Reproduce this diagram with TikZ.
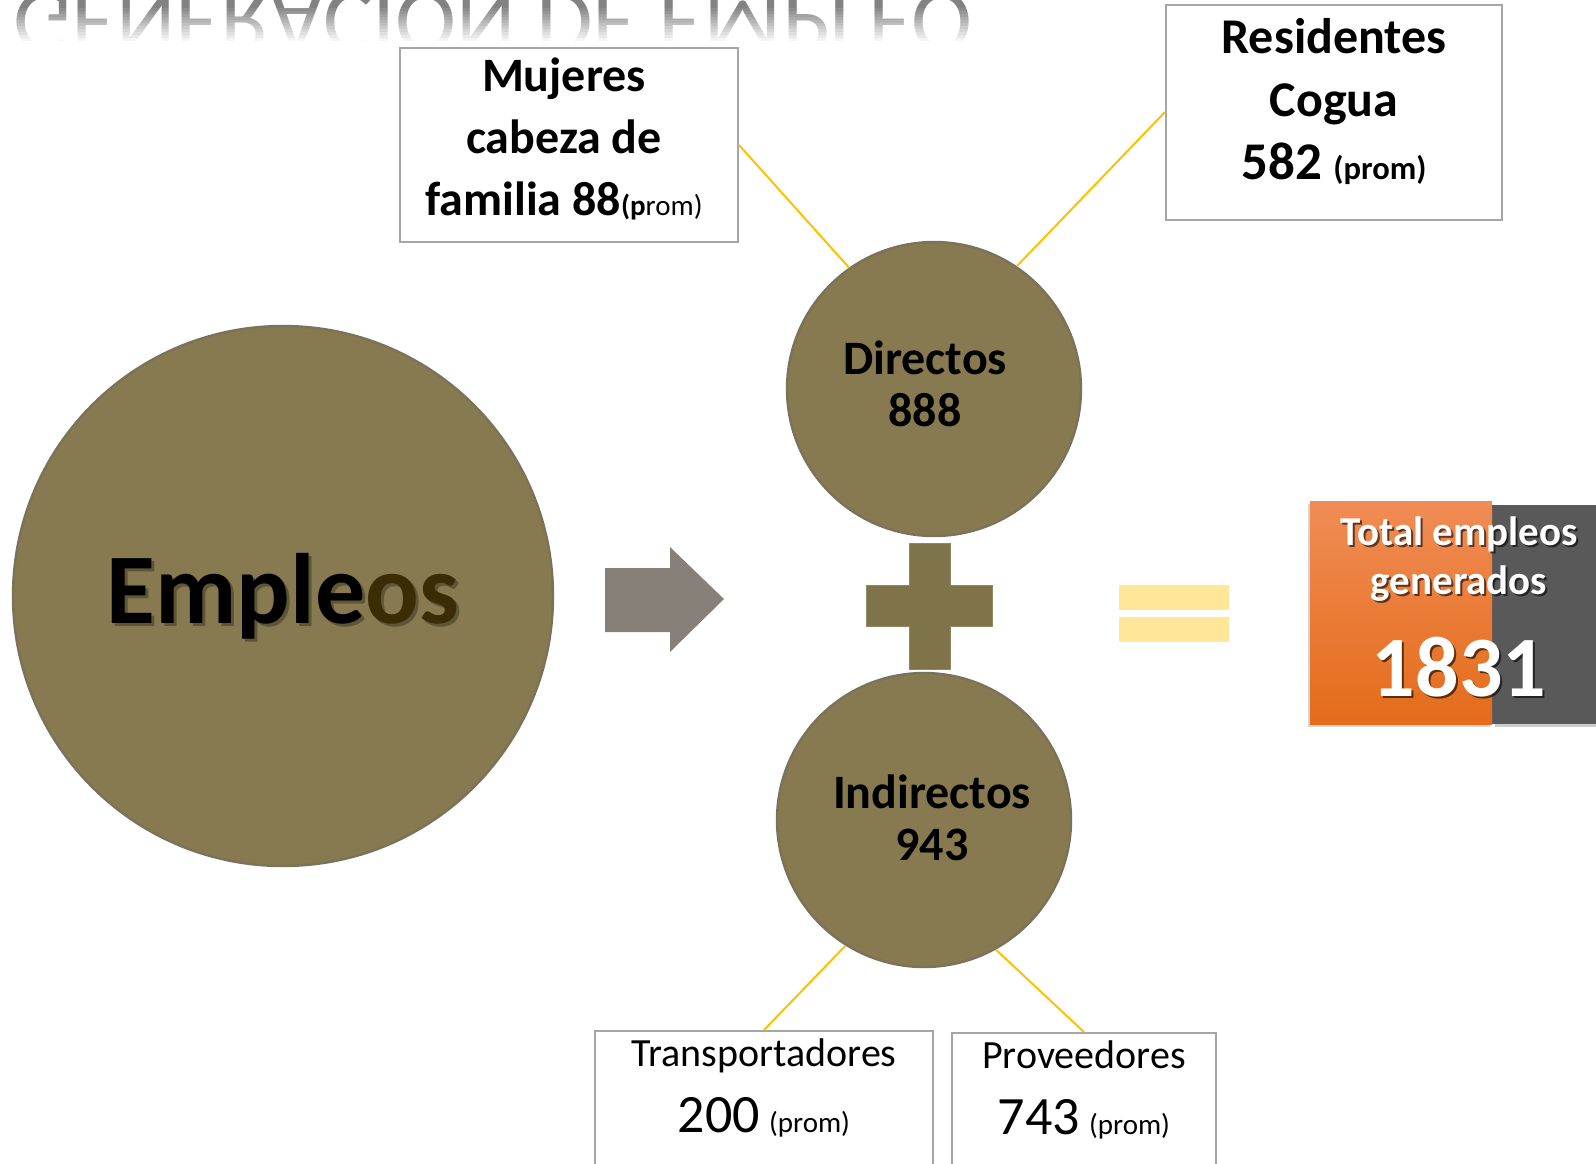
\documentclass[tikz,border=0pt]{standalone}
\usepackage{fontspec}
\setmainfont{Carlito}
\usepackage{tikz}
\usetikzlibrary{shapes,arrows,shadows}

\definecolor{oliva}{RGB}{135,122,80}
\definecolor{bordeoliva}{RGB}{122,115,90}
\definecolor{cruz}{RGB}{127,116,73}
\definecolor{flecha}{RGB}{134,128,121}
\definecolor{igual}{RGB}{255,230,153}
\definecolor{amarillo}{RGB}{255,192,0}
\definecolor{bordecaja}{RGB}{166,166,166}
\definecolor{naranjaclaro}{RGB}{240,140,85}
\definecolor{naranja}{RGB}{228,108,26}
\definecolor{grisoscuro}{RGB}{89,89,89}
\definecolor{marron}{RGB}{58,45,5}
\definecolor{reflejo}{RGB}{130,130,130}

\begin{document}
\begin{tikzpicture}[x=0.5pt,y=-0.5pt,
  caja/.style={draw=bordecaja, line width=1pt, fill=white, inner sep=0pt},
  textocaja/.style={align=center, inner sep=0pt},
  burbuja/.style={circle, fill=oliva, draw=bordeoliva, line width=1.2pt, inner sep=0pt, minimum size=147pt},
  textoburbuja/.style={align=center, font=\bfseries\fontsize{24}{26}\selectfont},
  conector/.style={draw=amarillo, line width=1pt},
  textototal/.style={align=center, font=\bfseries\fontsize{20.5}{24.5}\selectfont}]
\useasboundingbox (0,0) rectangle (1596,1163);
\clip (0,0) rectangle (1596,1163);

\node[text=reflejo, font=\fontsize{46}{46}\selectfont, anchor=base, inner sep=0pt] (titulo) at (493,-8)
  {\scalebox{1}[-1]{GENERACION DE EMPLEO}};
\foreach \i in {1,...,12}
  \fill[white, opacity=\i/12] (0,5+3*\i) rectangle (1000,8+3*\i);
\fill[white] (0,44) rectangle (1000,60);

\node[caja, minimum width=169pt, minimum height=97pt] (mujeres) at (569,145) {};
\node[textocaja, font=\bfseries\fontsize{24}{31}\selectfont] (mujerestxt) at ([xshift=-2.5pt, yshift=3pt]mujeres.center)
  {Mujeres\\cabeza de\\familia 88{\fontsize{14.5}{14.5}\selectfont(p\mdseries rom)}};
\node[caja, minimum width=168pt, minimum height=107.5pt] (residentes) at (1334,112) {};
\node[textocaja, font=\bfseries\fontsize{25}{31.5}\selectfont] (residentestxt) at ([yshift=5pt]residentes.center)
  {Residentes\\Cogua\\{\fontsize{26.5}{31.5}\selectfont 582} {\fontsize{16.3}{16}\selectfont(prom)}};
\node[caja, anchor=north, minimum width=169pt, minimum height=70pt] (transp) at (764,1030) {};
\node[textocaja, font=\fontsize{20}{33}\selectfont] (transptxt) at ([yshift=-29pt]transp.north)
  {Transportadores\\{\fontsize{27}{33}\selectfont 200} {\fontsize{14.5}{14.5}\selectfont(prom)}};
\node[caja, anchor=north, minimum width=132pt, minimum height=70pt] (prov) at (1084,1032) {};
\node[textocaja, font=\fontsize{20}{33}\selectfont] (provtxt) at ([yshift=-29pt]prov.north)
  {Proveedores\\{\fontsize{27}{33}\selectfont 743} {\fontsize{14.5}{14.5}\selectfont(prom)}};

\node[burbuja, minimum size=270pt] (empleos) at (283,596) {};
\node[font=\bfseries\fontsize{50}{50}\selectfont, text=black, opacity=0.3] (empleossombra) at (286,599) {Empleos};
\node[font=\bfseries\fontsize{50}{50}\selectfont, text=black] (empleostxt) at (empleos.center) {Emple{\color{marron}os}};
\node[burbuja] (directos) at (934,389) {};
\node[textoburbuja] (directostxt) at ([xshift=-4.5pt, yshift=2.5pt]directos.center) {Directos\\888};
\node[burbuja] (indirectos) at (924,820) {};
\node[textoburbuja] (indirectostxt) at ([xshift=4pt, yshift=1pt]indirectos.center) {Indirectos\\943};

\foreach \a/\b in {mujeres.east/directos.125, residentes.west/directos.56,
  indirectos.238/transp.north, indirectos.299/prov.north}
  \draw[conector] (\a) -- (\b);

\fill[flecha] (605,568) -- (670,568) -- (670,547) -- (724,599) -- (670,652) -- (670,632) -- (605,632) -- cycle;
\filldraw[fill=cruz, draw=cruz!85!white, line width=0.5pt]
  (909,543) -- (950,543) -- (950,585) -- (992,585) -- (992,626) -- (950,626) -- (950,669)
  -- (909,669) -- (909,626) -- (866,626) -- (866,585) -- (909,585) -- cycle;
\foreach \y in {585,617}
  \fill[igual] (1119,\y) rectangle (1229,\y+25);

\fill[grisoscuro, drop shadow={opacity=0.4, shadow xshift=1.5pt, shadow yshift=-1.5pt}] (1492,505) rectangle (1620,724);
\node[top color=naranjaclaro, bottom color=naranja, minimum width=91pt, minimum height=111.5pt,
  drop shadow={opacity=0.35, shadow xshift=-1pt, shadow yshift=-1.5pt}] (total) at (1401,612.5) {};
\node[textototal, text=black, opacity=0.6] (totalsombra) at (1461,609)
  {Total empleos\\generados\\[17pt]{\fontsize{43}{43}\selectfont 1831}};
\node[textototal, text=white] (totaltxt) at (1459,607)
  {Total empleos\\generados\\[17pt]{\fontsize{43}{43}\selectfont 1831}};

\end{tikzpicture}
\end{document}
